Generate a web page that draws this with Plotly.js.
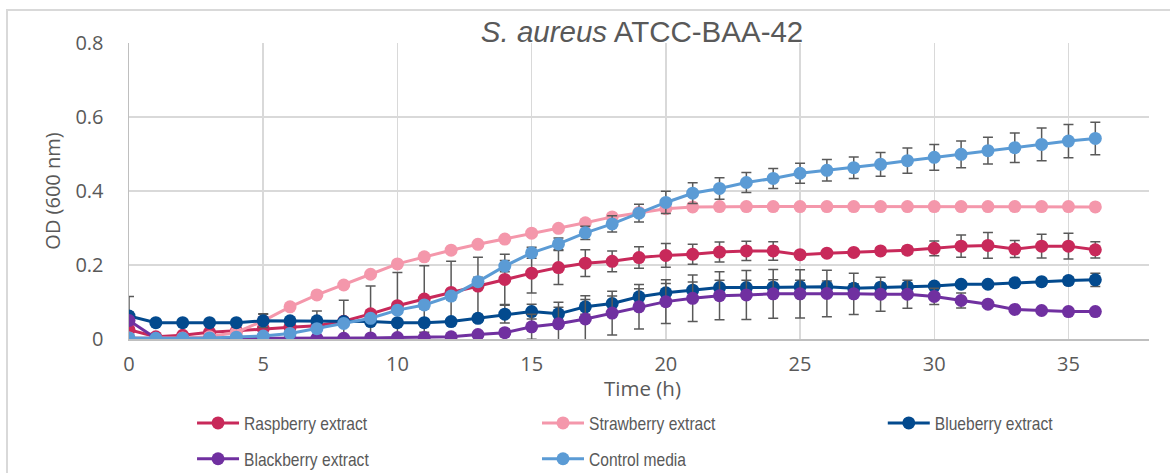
<!DOCTYPE html>
<html>
<head>
<meta charset="utf-8">
<script src="https://cdn.plot.ly/plotly-3.0.1.min.js"></script>
<style>
  html, body { margin: 0; padding: 0; background: #ffffff; }
  #wrap { position: relative; width: 1170px; height: 473px; overflow: hidden; }
  #chart { position: absolute; left: 0; top: 0; width: 1170px; height: 473px; }
  #frame { position: absolute; left: 6px; top: 9px; width: 1200px; height: 500px;
           border: 2px solid #D9D9D9; box-sizing: border-box; pointer-events: none; }
</style>
</head>
<body>
<div id="wrap">
  <div id="chart"></div>
  <div id="frame"></div>
</div>
<script>
// ---------------- data ----------------
const time = [0,1,2,3,4,5,6,7,8,9,10,11,12,13,14,15,16,17,18,19,20,21,22,23,24,25,26,27,28,29,30,31,32,33,34,35,36];

const seriesNames = ["Raspberry extract", "Strawberry extract", "Blueberry extract", "Blackberry extract", "Control media"];

const raspberry = [0.025,0.006,0.010,0.018,0.022,0.028,0.032,0.036,0.048,0.068,0.090,0.108,0.126,0.143,0.161,0.178,0.193,0.205,0.210,0.220,0.226,0.229,0.235,0.238,0.238,0.228,0.232,0.234,0.238,0.240,0.245,0.251,0.253,0.243,0.251,0.251,0.241];
const raspberryErr = [0.090,0.005,0.005,0.005,0.005,0.040,0.020,0.040,0.057,0.075,0.090,0.090,0.084,0.078,0.068,0.054,0.046,0.036,0.028,0.029,0.032,0.027,0.027,0.026,0.025,0.008,0.008,0.008,0.008,0.010,0.020,0.030,0.035,0.023,0.032,0.035,0.022];

const strawberry = [0.003,0.002,0.003,0.006,0.018,0.049,0.087,0.119,0.146,0.175,0.203,0.222,0.240,0.256,0.270,0.286,0.299,0.314,0.330,0.342,0.352,0.357,0.358,0.358,0.358,0.358,0.358,0.358,0.358,0.358,0.358,0.358,0.358,0.358,0.358,0.358,0.357];
const strawberryErr = [0.003,0.003,0.003,0.003,0.003,0.003,0.003,0.003,0.003,0.003,0.003,0.003,0.003,0.003,0.003,0.003,0.003,0.003,0.003,0.003,0.003,0.003,0.003,0.003,0.003,0.003,0.003,0.003,0.003,0.003,0.003,0.003,0.003,0.003,0.003,0.003,0.003];

const blueberry = [0.062,0.044,0.044,0.044,0.044,0.049,0.049,0.049,0.047,0.047,0.044,0.044,0.047,0.056,0.067,0.074,0.068,0.087,0.096,0.114,0.125,0.132,0.139,0.139,0.140,0.141,0.141,0.137,0.140,0.141,0.143,0.148,0.148,0.152,0.155,0.158,0.160];
const blueberryErr = [0.010,0.004,0.004,0.004,0.004,0.018,0.004,0.004,0.004,0.004,0.004,0.004,0.004,0.010,0.024,0.020,0.018,0.020,0.020,0.022,0.025,0.022,0.020,0.020,0.020,0.018,0.016,0.012,0.010,0.008,0.006,0.006,0.006,0.006,0.008,0.010,0.018];

const blackberry = [0.050,0.002,0.001,0.001,0.001,0.001,0.001,0.002,0.002,0.003,0.004,0.004,0.006,0.012,0.017,0.033,0.041,0.054,0.070,0.087,0.101,0.110,0.117,0.119,0.122,0.122,0.123,0.122,0.121,0.121,0.115,0.104,0.094,0.080,0.077,0.074,0.074];
const blackberryErr = [0.005,0.002,0.002,0.002,0.002,0.002,0.002,0.002,0.002,0.003,0.003,0.003,0.004,0.006,0.010,0.034,0.058,0.063,0.059,0.060,0.059,0.063,0.065,0.066,0.066,0.065,0.063,0.056,0.046,0.038,0.022,0.020,0.006,0.006,0.005,0.005,0.005];

const control = [0.003,0.002,0.002,0.003,0.005,0.008,0.015,0.028,0.042,0.056,0.078,0.092,0.116,0.155,0.197,0.233,0.257,0.287,0.311,0.340,0.369,0.394,0.407,0.423,0.434,0.448,0.456,0.463,0.472,0.482,0.491,0.499,0.509,0.517,0.526,0.535,0.542];
const controlErr = [0.003,0.003,0.003,0.003,0.003,0.003,0.003,0.004,0.005,0.006,0.008,0.010,0.010,0.012,0.015,0.015,0.016,0.018,0.022,0.024,0.030,0.028,0.029,0.027,0.027,0.027,0.029,0.029,0.032,0.034,0.035,0.036,0.036,0.040,0.044,0.045,0.044];

const yTickVals = [0, 0.2, 0.4, 0.6, 0.8];
const yTickText = ["0", "0.2", "0.4", "0.6", "0.8"];
const xTickVals = [0, 5, 10, 15, 20, 25, 30, 35];
const xTickText = ["0", "5", "10", "15", "20", "25", "30", "35"];

// ---------------- styling ----------------
const colors = ["#C8295A", "#F497AB", "#034A8E", "#7030A0", "#5B9BD5"];
const values = [raspberry, strawberry, blueberry, blackberry, control];
const errors = [raspberryErr, strawberryErr, blueberryErr, blackberryErr, controlErr];
const legendIds = ["legend", "legend2", "legend3", "legend4", "legend5"];

const traces = values.map((v, i) => ({
  type: "scatter",
  mode: "lines+markers",
  name: seriesNames[i],
  x: time,
  y: v,
  line: { color: colors[i], width: 3 },
  marker: { color: colors[i], size: 13 },
  error_y: { type: "data", array: errors[i], visible: true, color: "#595959", thickness: 1.5, width: 5 },
  legend: legendIds[i]
}));

const legendFont = { family: "'Liberation Sans', Arial, sans-serif", size: 19, color: "#595959" };
function legendAt(x, y) {
  return { x: x, y: y, xanchor: "left", yanchor: "middle", orientation: "h",
           font: legendFont, bgcolor: "rgba(0,0,0,0)", borderwidth: 0, itemwidth: 42 };
}
const colX = [0.0618, 0.4, 0.739];
const rowY = [-0.284, -0.405];

const tickFont = { family: "'Open Sans', sans-serif", size: 20, color: "#595959" };

const layout = {
  width: 1170,
  height: 473,
  margin: { l: 129, r: 21, t: 43, b: 134, autoexpand: false },
  paper_bgcolor: "rgba(0,0,0,0)",
  plot_bgcolor: "#ffffff",
  showlegend: true,
  title: {
    text: "<i>S. aureus</i> ATCC-BAA-42",
    font: { family: "'Liberation Sans', Arial, sans-serif", size: 29.5, color: "#595959" },
    x: 0.503, xref: "paper", xanchor: "center",
    y: 0.934, yref: "container", yanchor: "middle"
  },
  xaxis: {
    range: [0, 38],
    tickvals: xTickVals,
    ticktext: xTickText,
    tickfont: tickFont,
    showgrid: true,
    gridcolor: "#D9D9D9",
    gridwidth: 1.5,
    showline: true,
    linecolor: "#BFBFBF",
    linewidth: 1.5,
    zeroline: false,
    ticks: "",
    ticklabelstandoff: 6,
    automargin: false
  },
  yaxis: {
    range: [0, 0.8],
    tickvals: yTickVals,
    ticktext: yTickText,
    tickfont: tickFont,
    showgrid: true,
    gridcolor: "#D9D9D9",
    gridwidth: 1.5,
    showline: true,
    linecolor: "#BFBFBF",
    linewidth: 1.5,
    zeroline: false,
    ticks: "",
    ticklabelstandoff: 20,
    title: { text: "OD (600 nm)", font: { family: "'Open Sans', sans-serif", size: 20, color: "#595959" }, standoff: 9 },
    automargin: false
  },
  annotations: [{
    text: "Time (h)",
    xref: "paper", yref: "paper", x: 0.503, y: -0.167,
    xanchor: "center", yanchor: "middle", showarrow: false,
    font: { family: "'Open Sans', sans-serif", size: 20.5, color: "#595959" }
  }],
  legend: legendAt(colX[0], rowY[0]),
  legend2: legendAt(colX[1], rowY[0]),
  legend3: legendAt(colX[2], rowY[0]),
  legend4: legendAt(colX[0], rowY[1]),
  legend5: legendAt(colX[1], rowY[1])
};

function condenseLegendText() {
  // the reference legend labels are horizontally condensed: squeeze the glyphs to 82% of their width
  document.querySelectorAll("#chart svg text").forEach(function (t) {
    if (seriesNames.indexOf(t.textContent) < 0) return;
    if (t.getAttribute("data-condensed")) return;
    const w = t.getComputedTextLength();
    if (w > 0) {
      t.setAttribute("textLength", (w * 0.82).toFixed(1));
      t.setAttribute("lengthAdjust", "spacingAndGlyphs");
      t.setAttribute("data-condensed", "1");
    }
  });
}

Plotly.newPlot("chart", traces, layout, { staticPlot: true, displayModeBar: false });
condenseLegendText();
const gdEl = document.getElementById("chart");
if (gdEl.on) gdEl.on("plotly_afterplot", condenseLegendText);
new MutationObserver(condenseLegendText).observe(gdEl, { childList: true, subtree: true });
</script>
</body>
</html>
